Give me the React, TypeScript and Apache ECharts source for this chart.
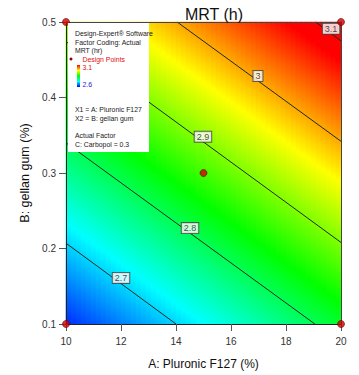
import React, { useEffect, useRef } from 'react';
import * as echarts from 'echarts';

// Axis ticks
const aTicks = [10, 12, 14, 16, 18, 20];
const bTicks = [0.1, 0.2, 0.3, 0.4, 0.5];

// MRT (h) surface read at the grid nodes: one row per B level, columns follow aTicks
const mrtB01 = [2.62, 2.66, 2.7, 2.739, 2.779, 2.819];
const mrtB02 = [2.695, 2.735, 2.775, 2.814, 2.854, 2.894];
const mrtB03 = [2.77, 2.81, 2.85, 2.889, 2.929, 2.969];
const mrtB04 = [2.845, 2.885, 2.925, 2.964, 3.004, 3.044];
const mrtB05 = [2.92, 2.96, 3.0, 3.039, 3.079, 3.119];

// Contour lines (A, B)
const contour27 = [[10, 0.207], [14, 0.1]];
const contour28 = [[10, 0.34], [19.05, 0.1]];
const contour29 = [[10, 0.474], [20, 0.208]];
const contour30 = [[14.04, 0.5], [20, 0.342]];
const contour31 = [[19.07, 0.5], [20, 0.475]];

// Contour labels
const labelLevels = ['2.7', '2.8', '2.9', '3', '3.1'];
const labelA = [12.0, 14.51, 14.98, 16.98, 19.64];
const labelB = [0.161, 0.227, 0.348, 0.4285, 0.491];

// Design points
const designA = [10, 10, 20, 20, 15];
const designB = [0.1, 0.5, 0.1, 0.5, 0.3];

const colorScale = ['#0000FF', '#00FFFF', '#00FF00', '#FFFF00', '#FF0000'];
const colorMin = 2.6;
const colorMax = 3.08;
const FONT = 'Arial, "Liberation Sans", sans-serif';

export default function App() {
  const ref = useRef<HTMLDivElement>(null);
  useEffect(() => {
    if (!ref.current) return;
    const chart = echarts.init(ref.current, undefined, { renderer: 'svg' });

    const grid = [mrtB01, mrtB02, mrtB03, mrtB04, mrtB05];
    const NX = 55;
    const NY = 151;
    const aMin = aTicks[0], aMax = aTicks[aTicks.length - 1];
    const bMin = bTicks[0], bMax = bTicks[bTicks.length - 1];
    const xCats: string[] = [];
    const yCats: string[] = [];
    for (let i = 0; i < NX; i++) xCats.push(String(i));
    for (let j = 0; j < NY; j++) yCats.push(String(j));
    const sample = (a: number, b: number) => {
      const fx = ((a - aMin) / (aMax - aMin)) * (aTicks.length - 1);
      const fy = ((b - bMin) / (bMax - bMin)) * (bTicks.length - 1);
      const i0 = Math.min(Math.floor(fx), aTicks.length - 2);
      const j0 = Math.min(Math.floor(fy), bTicks.length - 2);
      const tx = fx - i0, ty = fy - j0;
      const v00 = grid[j0][i0], v10 = grid[j0][i0 + 1];
      const v01 = grid[j0 + 1][i0], v11 = grid[j0 + 1][i0 + 1];
      return (v00 * (1 - tx) + v10 * tx) * (1 - ty) + (v01 * (1 - tx) + v11 * tx) * ty;
    };
    const heat: number[][] = [];
    for (let i = 0; i < NX; i++) {
      const a = aMin + ((i + 0.5) / NX) * (aMax - aMin);
      for (let j = 0; j < NY; j++) {
        const b = bMin + ((j + 0.5) / NY) * (bMax - bMin);
        heat.push([i, j, sample(a, b)]);
      }
    }

    const contourSeries = [contour27, contour28, contour29, contour30, contour31].map((d) => ({
      type: 'line',
      xAxisIndex: 0,
      yAxisIndex: 0,
      data: d,
      symbol: 'none',
      silent: true,
      z: 3,
      lineStyle: { color: '#1e2a1e', width: 1 },
    }));

    const legendTexts = [
      { t: 'Design-Expert® Software', y: 33.5, c: '#1a1a1a', x: 75 },
      { t: 'Factor Coding: Actual', y: 42, c: '#1a1a1a', x: 75 },
      { t: 'MRT (hr)', y: 50.5, c: '#1a1a1a', x: 75 },
      { t: 'Design Points', y: 59, c: '#E01010', x: 82.5 },
      { t: '3.1', y: 67, c: '#E01010', x: 82.5 },
      { t: '2.6', y: 84.5, c: '#2020E0', x: 82.5 },
      { t: 'X1 = A: Pluronic F127', y: 109, c: '#1a1a1a', x: 75 },
      { t: 'X2 = B: gellan gum', y: 118, c: '#1a1a1a', x: 75 },
      { t: 'Actual Factor', y: 135.5, c: '#1a1a1a', x: 75 },
      { t: 'C: Carbopol = 0.3', y: 144.5, c: '#1a1a1a', x: 75 },
    ];

    const graphicEls: any[] = [
      { type: 'rect', z: 100, shape: { x: 68, y: 23, width: 81, height: 129 }, style: { fill: '#ffffff' } },
      { type: 'circle', z: 101, shape: { cx: 71, cy: 59, r: 1.5 }, style: { fill: '#900000' } },
      {
        type: 'rect',
        z: 101,
        shape: { x: 77, y: 65, width: 3, height: 22 },
        style: {
          fill: {
            type: 'linear',
            x: 0,
            y: 0,
            x2: 0,
            y2: 1,
            colorStops: [
              { offset: 0, color: '#FF0000' },
              { offset: 0.25, color: '#FFFF00' },
              { offset: 0.5, color: '#00FF00' },
              { offset: 0.75, color: '#00FFFF' },
              { offset: 1, color: '#0000FF' },
            ],
          },
        },
      },
    ];
    legendTexts.forEach((lt) => {
      graphicEls.push({
        type: 'text',
        z: 101,
        x: lt.x,
        y: lt.y,
        style: {
          text: lt.t,
          fill: lt.c,
          font: '6.9px Arial, "Liberation Sans", sans-serif',
          verticalAlign: 'middle',
          align: 'left',
        },
      });
    });

    chart.setOption({
      animation: false,
      title: {
        text: 'MRT (h)',
        left: 209,
        top: 1,
        textAlign: 'center',
        textStyle: { fontFamily: FONT, fontSize: 16, fontWeight: 'normal', color: '#111' },
      },
      grid: { left: 66, top: 22, right: 18, bottom: 51 },
      visualMap: {
        type: 'continuous',
        show: false,
        min: colorMin,
        max: colorMax,
        seriesIndex: 0,
        inRange: { color: colorScale },
      },
      xAxis: [
        {
          type: 'value',
          min: aMin,
          max: aMax,
          interval: 2,
          position: 'bottom',
          z: 5,
          splitLine: { show: false },
          axisLine: { show: true, lineStyle: { color: '#222', width: 1 } },
          axisTick: { show: true, length: 7, lineStyle: { color: '#555' } },
          axisLabel: { fontFamily: FONT, fontSize: 10, color: '#333', margin: 12 },
          name: 'A: Pluronic F127 (%)',
          nameLocation: 'middle',
          nameGap: 34,
          nameTextStyle: { fontFamily: FONT, fontSize: 12, color: '#111' },
        },
        {
          type: 'category',
          data: xCats,
          position: 'top',
          z: 5,
          axisLine: { show: true, lineStyle: { color: '#444', width: 1 } },
          axisTick: { show: false },
          axisLabel: { show: false },
          splitLine: { show: false },
        },
      ],
      yAxis: [
        {
          type: 'value',
          min: bMin,
          max: bMax,
          interval: 0.1,
          position: 'left',
          z: 5,
          splitLine: { show: false },
          axisLine: { show: true, lineStyle: { color: '#222', width: 1 } },
          axisTick: { show: true, length: 7, lineStyle: { color: '#555' } },
          axisLabel: { fontFamily: FONT, fontSize: 10, color: '#333', margin: 10, formatter: (v: number) => v.toFixed(1) },
          name: 'B: gellan gum (%)',
          nameLocation: 'middle',
          nameGap: 13,
          nameTextStyle: { fontFamily: FONT, fontSize: 12.5, color: '#111' },
        },
        {
          type: 'category',
          data: yCats,
          position: 'right',
          z: 5,
          axisLine: { show: true, lineStyle: { color: '#444', width: 1 } },
          axisTick: { show: false },
          axisLabel: { show: false },
          splitLine: { show: false },
        },
      ],
      series: [
        {
          type: 'heatmap',
          xAxisIndex: 1,
          yAxisIndex: 1,
          data: heat,
          progressive: 0,
          silent: true,
          z: 1,
          emphasis: { disabled: true },
        },
        ...contourSeries,
        {
          type: 'scatter',
          xAxisIndex: 0,
          yAxisIndex: 0,
          silent: true,
          z: 8,
          symbolSize: 1,
          itemStyle: { color: 'rgba(0,0,0,0)' },
          data: labelLevels.map((lv, k) => ({ value: [labelA[k], labelB[k]], name: lv })),
          label: {
            show: true,
            position: 'inside',
            formatter: (p: any) => p.name,
            fontFamily: FONT,
            fontSize: 9,
            color: '#222',
            backgroundColor: '#ffffff',
            borderColor: '#444',
            borderWidth: 1,
            padding: [1, 2, 0, 2],
          },
        },
        {
          type: 'scatter',
          xAxisIndex: 0,
          yAxisIndex: 0,
          silent: true,
          clip: false,
          z: 10,
          symbolSize: 7,
          itemStyle: { color: '#D00000', borderColor: '#700000', borderWidth: 0.8 },
          data: designA.map((a, k) => [a, designB[k]]),
        },
      ],
      graphic: { elements: graphicEls },
    });
    return () => chart.dispose();
  }, []);
  return (
    <div
      ref={ref}
      style={{ position: 'fixed', left: 0, top: 0, width: 359, height: 375, background: '#fff' }}
    />
  );
}
